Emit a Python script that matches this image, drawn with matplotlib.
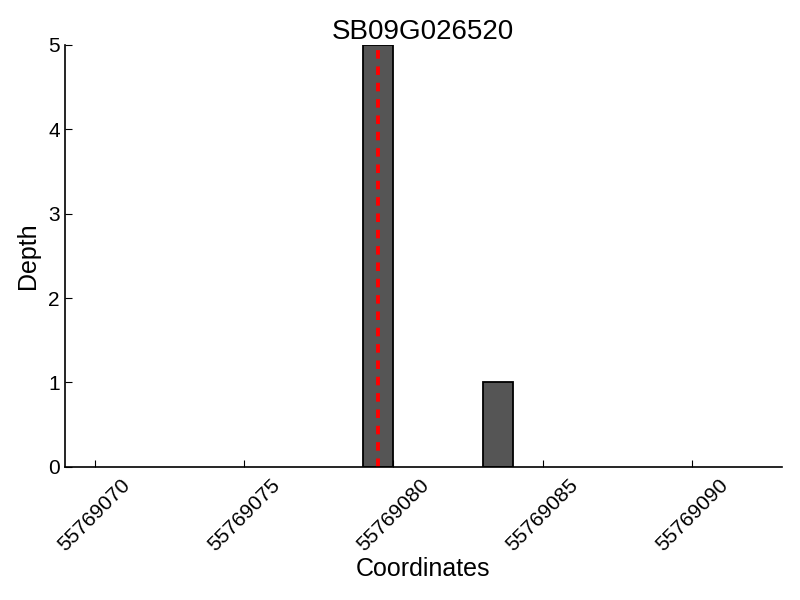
import matplotlib
matplotlib.use("Agg")
import matplotlib.pyplot as plt

plt.rcParams['font.family'] = ['Liberation Sans', 'DejaVu Sans']

# coverage depth per position
positions = [55769079, 55769083]
depths = [5, 1]
site = 55769079.5
x_ticks = [55769070, 55769075, 55769080, 55769085, 55769090]
y_ticks = [0, 1, 2, 3, 4, 5]
title = "SB09G026520"

fig = plt.figure(figsize=(8, 6), dpi=100)
ax = fig.add_axes([0.081, 0.222, 0.896, 0.703])

ax.bar(positions, depths, width=1, align='edge', color='#555555',
       edgecolor='black', linewidth=1.3)
ax.axvline(site, color='#ff0000', linestyle='--', linewidth=2.8, dashes=(2.2, 2.0))

ax.set_xlim(55769069, 55769093)
ax.set_ylim(0, 5)
ax.set_xticks(x_ticks)
ax.set_xticklabels([str(t) for t in x_ticks], rotation=45, ha='center')
ax.set_yticks(y_ticks)
ax.tick_params(direction='in', labelsize=15, length=5, width=0.8)
ax.tick_params(axis='x', pad=6)

ax.spines['top'].set_visible(False)
ax.spines['right'].set_visible(False)
ax.spines['left'].set_linewidth(1.2)
ax.spines['bottom'].set_linewidth(1.2)

ax.set_title(title, fontsize=20, pad=3)
ax.set_xlabel("Coordinates", fontsize=18, labelpad=2)
ax.set_ylabel("Depth", fontsize=18, labelpad=6)

fig.savefig("out.png", dpi=100)
